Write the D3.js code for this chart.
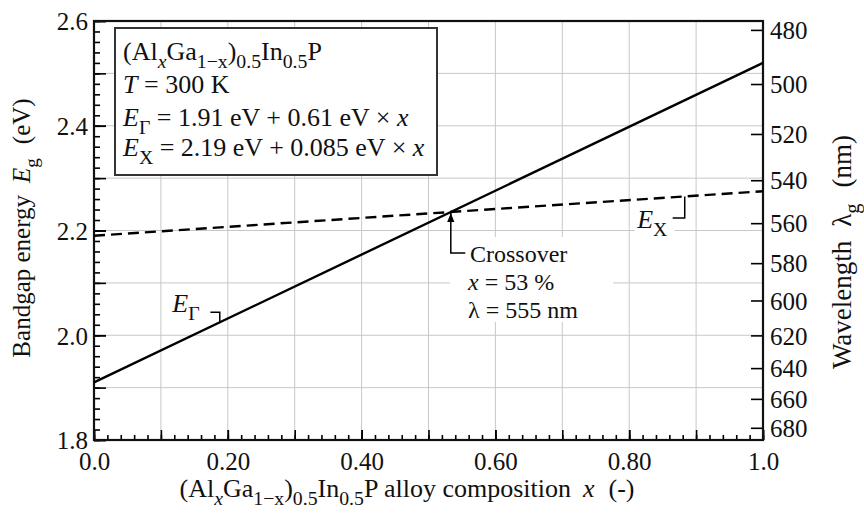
<!DOCTYPE html>
<html>
<head>
<meta charset="utf-8">
<script src="https://cdn.jsdelivr.net/npm/d3@7"></script>
<style>
  html, body { margin: 0; padding: 0; background: #fff; }
  svg { display: block; font-family: "Liberation Serif", "Times New Roman", serif; }
  svg text { font-family: "Liberation Serif", "Times New Roman", serif; }
</style>
</head>
<body>
<svg id="chart" width="864" height="517"></svg>
<script>
// ---------- data ----------
const composition = [0.0, 1.0];            // x (Al fraction)
const gammaEnergy = [1.91, 2.52];          // E_Gamma (eV) = 1.91 + 0.61 x
const xValleyEnergy = [2.19, 2.275];       // E_X (eV) = 2.19 + 0.085 x
const xTickValues = [0.0, 0.2, 0.4, 0.6, 0.8, 1.0];
const xTickLabels = ["0.0", "0.20", "0.40", "0.60", "0.80", "1.0"];
const yTickValues = [1.8, 2.0, 2.2, 2.4, 2.6];
const yTickLabels = ["1.8", "2.0", "2.2", "2.4", "2.6"];
const wavelengthTicks = [480, 500, 520, 540, 560, 580, 600, 620, 640, 660, 680];
const crossoverLabels = ["Crossover", "x = 53 %", "λ = 555 nm"];
const HC = 1239.84; // eV·nm, energy <-> wavelength conversion

// ---------- layout ----------
const m = { left: 94, right: 763, top: 21, bottom: 440 };
const FS = 25;

const svg = d3.select("#chart");
const x = d3.scaleLinear().domain([0, 1]).range([m.left, m.right]);
const y = d3.scaleLinear().domain([1.8, 2.6]).range([m.bottom, m.top]);

// rich text helper: parts = [[text, style, dx]] style: 'i' italic, 's' subscript
function rich(sel, parts, fs, subScale = 0.76) {
  let shift = 0;
  parts.forEach(([t, st, dx]) => {
    const sub = st.includes("s");
    const target = sub ? 0.3 * fs : 0;
    const ts = sel.append("tspan")
      .attr("dy", target - shift)
      .style("font-size", (sub ? fs * subScale : fs) + "px")
      .style("font-style", st.includes("i") ? "italic" : "normal")
      .text(t);
    if (dx) ts.attr("dx", dx);
    shift = target;
  });
  return sel;
}

// ---------- grid ----------
const grid = svg.append("g").attr("stroke", "#c8c8c8").attr("stroke-width", 1);
d3.range(1, 10).forEach(i => {
  const v = i / 10;
  grid.append("line").attr("x1", x(v)).attr("x2", x(v)).attr("y1", m.top).attr("y2", m.bottom);
});
d3.range(1, 8).forEach(i => {
  const v = 1.8 + i / 10;
  grid.append("line").attr("x1", m.left).attr("x2", m.right).attr("y1", y(v)).attr("y2", y(v));
});

// ---------- axes ----------
const xMinor = d3.range(0, 51).map(i => i / 50);
const xAxisMinor = d3.axisBottom(x).tickValues(xMinor).tickSize(-5).tickFormat("");
const xAxisMid = d3.axisBottom(x).tickValues(d3.range(0, 11).map(i => i / 10)).tickSize(-10).tickFormat("");
const xAxisMajor = d3.axisBottom(x).tickValues(xTickValues).tickSize(-10)
  .tickFormat((d, i) => xTickLabels[i]);
[xAxisMinor, xAxisMid, xAxisMajor].forEach(ax => {
  const g = svg.append("g").attr("transform", `translate(0,${m.bottom})`).call(ax);
  g.attr("font-family", null);
  g.select(".domain").remove();
  g.selectAll(".tick line").attr("stroke", "#000").attr("stroke-width", 1.6);
  g.selectAll("text").attr("font-size", FS).attr("fill", "#111").attr("dy", "1.05em").attr("y", 4);
});

const yMinor = d3.range(0, 41).map(i => 1.8 + i / 50);
const yAxisMinor = d3.axisLeft(y).tickValues(yMinor).tickSize(-6).tickFormat("");
const yAxisMid = d3.axisLeft(y).tickValues(d3.range(0, 9).map(i => 1.8 + i / 10)).tickSize(-12).tickFormat("");
const yAxisMajor = d3.axisLeft(y).tickValues(yTickValues).tickSize(-12).tickFormat((d, i) => yTickLabels[i]);
[yAxisMinor, yAxisMid, yAxisMajor].forEach(ax => {
  const g = svg.append("g").attr("transform", `translate(${m.left},0)`).call(ax);
  g.attr("font-family", null);
  g.select(".domain").remove();
  g.selectAll(".tick line").attr("stroke", "#000").attr("stroke-width", 1.6);
  g.selectAll("text").attr("font-size", FS).attr("fill", "#111").attr("x", -6).attr("dy", "0.35em");
});

const yAxisRight = d3.axisRight(y).tickValues(wavelengthTicks.map(l => HC / l)).tickSize(-12)
  .tickFormat((d, i) => wavelengthTicks[i]);
{
  const g = svg.append("g").attr("transform", `translate(${m.right},0)`).call(yAxisRight);
  g.attr("font-family", null);
  g.select(".domain").remove();
  g.selectAll(".tick line").attr("stroke", "#000").attr("stroke-width", 1.6);
  g.selectAll("text").attr("font-size", FS).attr("fill", "#111").attr("x", 7).attr("dy", "0.35em");
}

// frame
svg.append("rect").attr("x", m.left).attr("y", m.top)
  .attr("width", m.right - m.left).attr("height", m.bottom - m.top)
  .attr("fill", "none").attr("stroke", "#111").attr("stroke-width", 2.2);

// ---------- lines ----------
const line = d3.line().x(d => x(d[0])).y(d => y(d[1]));
svg.append("path").datum(composition.map((c, i) => [c, gammaEnergy[i]]))
  .attr("d", line).attr("fill", "none").attr("stroke", "#000").attr("stroke-width", 2.4);
svg.append("path").datum(composition.map((c, i) => [c, xValleyEnergy[i]]))
  .attr("d", line).attr("fill", "none").attr("stroke", "#000").attr("stroke-width", 2.4)
  .attr("stroke-dasharray", "11,6");

// ---------- legend box ----------
const LF = 26;
svg.append("rect").attr("x", 115).attr("y", 28).attr("width", 322).attr("height", 147)
  .attr("fill", "#fff").attr("stroke", "#333").attr("stroke-width", 2);
const lg = svg.append("g").attr("font-size", LF).attr("fill", "#111");
rich(lg.append("text").attr("x", 123).attr("y", 60),
  [["(Al", ""], ["x", "si"], ["Ga", ""], ["1−x", "s"], [")", ""], ["0.5", "s"], ["In", ""], ["0.5", "s"], ["P", ""]], LF);
rich(lg.append("text").attr("x", 123).attr("y", 93),
  [["T", "i"], [" = 300 K", ""]], LF);
rich(lg.append("text").attr("x", 123).attr("y", 126),
  [["E", "i"], ["Γ", "s"], [" = 1.91 eV + 0.61 eV × ", ""], ["x", "i"]], LF);
rich(lg.append("text").attr("x", 123).attr("y", 156),
  [["E", "i"], ["X", "s"], [" = 2.19 eV + 0.085 eV × ", ""], ["x", "i"]], LF);

// ---------- crossover annotation ----------
const CF = 24;
const xc = (xValleyEnergy[0] - gammaEnergy[0]) /
  ((gammaEnergy[1] - gammaEnergy[0]) - (xValleyEnergy[1] - xValleyEnergy[0]));
const ec = gammaEnergy[0] + (gammaEnergy[1] - gammaEnergy[0]) * xc;
svg.append("rect").attr("x", 450).attr("y", 237).attr("width", 163).attr("height", 85).attr("fill", "#fff");
svg.append("defs").append("marker").attr("id", "arr").attr("viewBox", "0 0 10 10")
  .attr("refX", 10).attr("refY", 5).attr("markerWidth", 10).attr("markerHeight", 9)
  .attr("markerUnits", "userSpaceOnUse").attr("orient", "auto")
  .append("path").attr("d", "M0,1 L10,5 L0,9 Z").attr("fill", "#000");
svg.append("path")
  .attr("d", `M${x(0.555)},${y(2.157)} L${x(xc)},${y(2.157)} L${x(xc)},${y(ec) + 1}`)
  .attr("fill", "none").attr("stroke", "#000").attr("stroke-width", 1.5).attr("marker-end", "url(#arr)");
const cg = svg.append("g").attr("font-size", CF).attr("fill", "#111");
cg.append("text").attr("x", 470).attr("y", 262).text(crossoverLabels[0]);
rich(cg.append("text").attr("x", 468).attr("y", 290), [["x", "i"], [" = 53 %", ""]], CF);
cg.append("text").attr("x", 468).attr("y", 318).text(crossoverLabels[2]);

// ---------- E_Gamma label ----------
const gAt = v => gammaEnergy[0] + (gammaEnergy[1] - gammaEnergy[0]) * v;
rich(svg.append("text").attr("x", x(0.117)).attr("y", y(2.044)).attr("font-size", LF).attr("fill", "#111"),
  [["E", "i"], ["Γ", "s"]], LF);
svg.append("path")
  .attr("d", `M${x(0.174)},${y(2.044)} L${x(0.188)},${y(2.044)} L${x(0.188)},${y(gAt(0.188))}`)
  .attr("fill", "none").attr("stroke", "#000").attr("stroke-width", 1.5);

// ---------- E_X label ----------
const xAt = v => xValleyEnergy[0] + (xValleyEnergy[1] - xValleyEnergy[0]) * v;
svg.append("rect").attr("x", x(0.808)).attr("y", y(2.25)).attr("width", 40).attr("height", 42).attr("fill", "#fff");
rich(svg.append("text").attr("x", x(0.812)).attr("y", y(2.205)).attr("font-size", LF).attr("fill", "#111"),
  [["E", "i"], ["X", "s"]], LF);
svg.append("path")
  .attr("d", `M${x(0.865)},${y(2.224)} L${x(0.883)},${y(2.224)} L${x(0.883)},${y(xAt(0.883))}`)
  .attr("fill", "none").attr("stroke", "#000").attr("stroke-width", 1.5);

// ---------- axis titles ----------
rich(svg.append("text").attr("text-anchor", "middle").attr("font-size", 25).attr("fill", "#111")
  .attr("transform", `translate(30,228) rotate(-90)`),
  [["Bandgap energy", ""], ["E", "i", 12], ["g", "s"], ["(eV)", "", 14]], 25);
rich(svg.append("text").attr("text-anchor", "middle").attr("font-size", 27).attr("fill", "#111")
  .attr("transform", `translate(851,252) rotate(-90)`),
  [["Wavelength", ""], ["λ", "", 14], ["g", "s"], ["(nm)", "", 16]], 27);
rich(svg.append("text").attr("text-anchor", "middle").attr("font-size", 26).attr("fill", "#111")
  .attr("x", 407).attr("y", 497),
  [["(Al", ""], ["x", "si"], ["Ga", ""], ["1−x", "s"], [")", ""], ["0.5", "s"], ["In", ""], ["0.5", "s"], ["P alloy composition", ""], ["x", "i", 12], ["(-)", "", 14]], 26);
</script>
</body>
</html>
